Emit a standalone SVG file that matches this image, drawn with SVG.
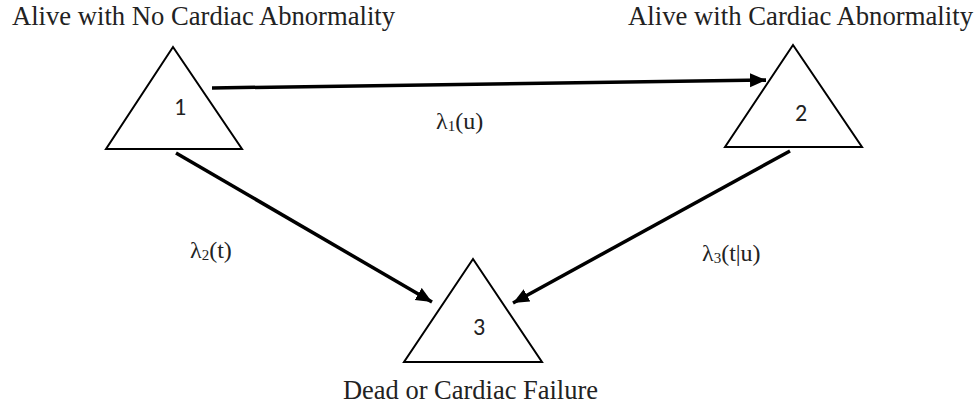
<svg xmlns="http://www.w3.org/2000/svg" width="980" height="409" viewBox="0 0 980 409">
<style>
.tri{fill:#fff;stroke:#000;stroke-width:2}
.num{font-family:Carlito,"Liberation Sans",sans-serif;font-size:24px;fill:#222;text-anchor:middle}
.ttl{font-family:"Liberation Serif",serif;font-size:26.5px;fill:#222}
.lab{font-size:24px;fill:#222}
.sub{font-size:15px}
.con{stroke:#000;stroke-width:3.5;fill:none;marker-end:url(#ah)}
</style>
<defs>
<marker id="ah" markerUnits="userSpaceOnUse" markerWidth="20" markerHeight="16" refX="16" refY="7" orient="auto">
<path d="M0,0 L16,7 L0,14 Z" fill="#000"/>
</marker>
</defs>
<rect width="980" height="409" fill="#fff"/>
<g id="connectors">
<line class="con" x1="212" y1="88" x2="766" y2="80"/>
<line class="con" x1="176" y1="153" x2="432" y2="302"/>
<line class="con" x1="790" y1="151" x2="513" y2="303"/>
</g>
<g id="node1">
<polygon class="tri" points="173,47 106,149 242,149"/>
<text class="num" x="180" y="115">1</text>
<text class="ttl" x="12" y="25" textLength="383" lengthAdjust="spacingAndGlyphs">Alive with No Cardiac Abnormality</text>
</g>
<g id="node2">
<polygon class="tri" points="793,45 725,147 862,147"/>
<text class="num" x="801" y="121">2</text>
<text class="ttl" x="628" y="25" textLength="345" lengthAdjust="spacingAndGlyphs">Alive with Cardiac Abnormality</text>
</g>
<g id="node3">
<polygon class="tri" points="473,259 404,362 542,362"/>
<text class="num" x="479" y="335">3</text>
<text class="ttl" x="343" y="399" textLength="255" lengthAdjust="spacingAndGlyphs">Dead or Cardiac Failure</text>
</g>
<g id="labels" font-family="Liberation Serif">
<text class="lab" x="436" y="129">λ<tspan class="sub" dy="2">1</tspan><tspan dy="-2">(u)</tspan></text>
<text class="lab" x="190" y="258">λ<tspan class="sub" dy="2">2</tspan><tspan dy="-2">(t)</tspan></text>
<text class="lab" x="702" y="261">λ<tspan class="sub" dy="2">3</tspan><tspan dy="-2">(t|u)</tspan></text>
</g>
</svg>
